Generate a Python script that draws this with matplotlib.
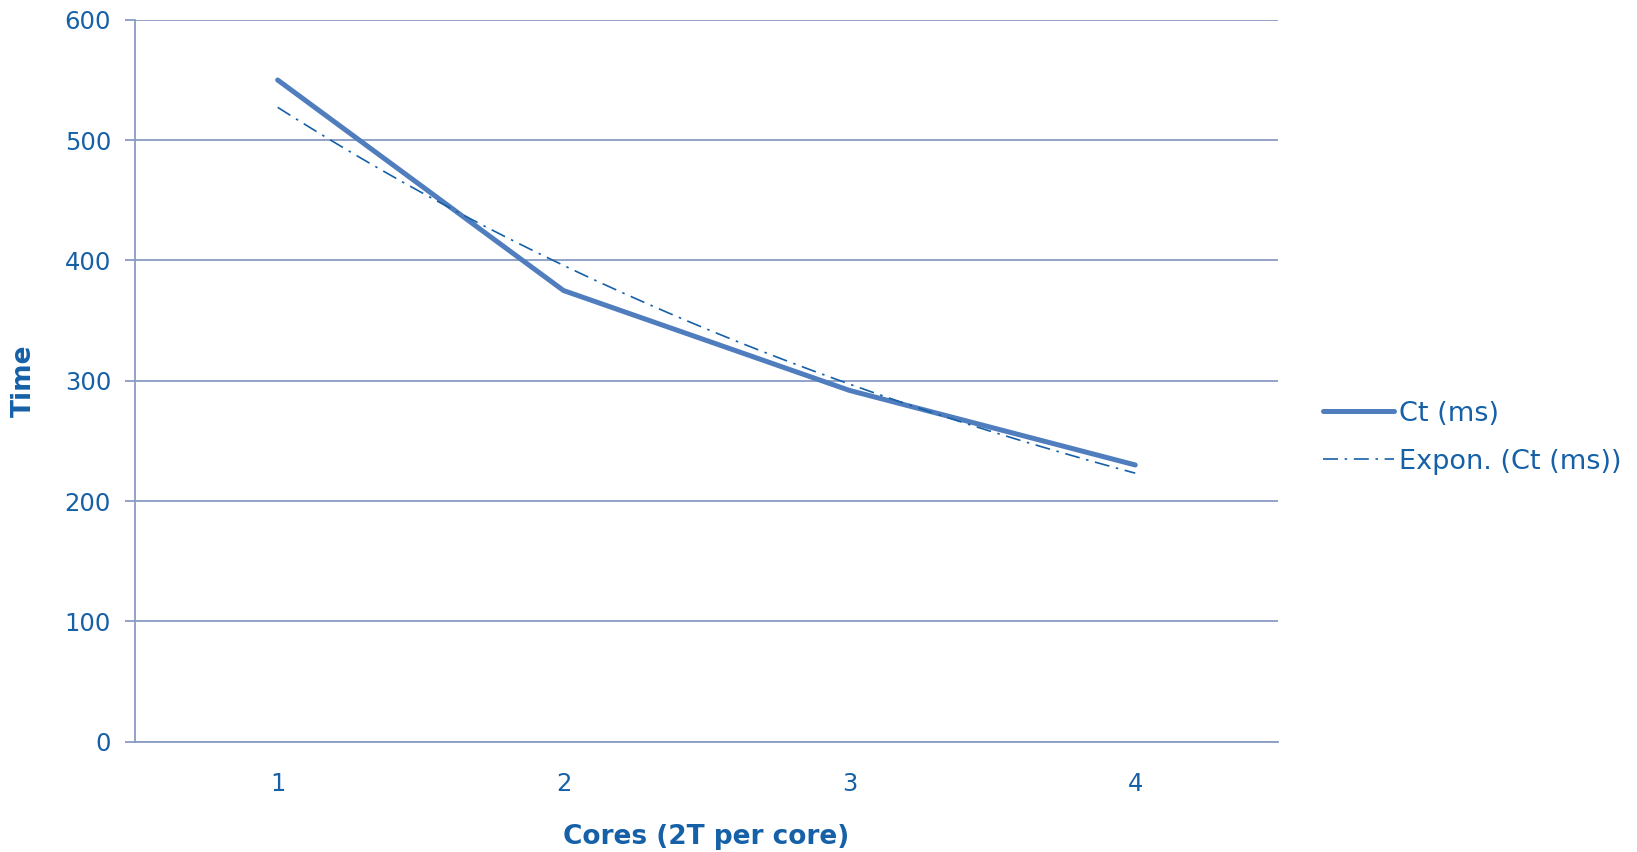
import matplotlib
matplotlib.use("Agg")
import matplotlib.pyplot as plt
import numpy as np

cores = [1, 2, 3, 4]
ct_ms = [550, 375, 292, 230]
yticks = [0, 100, 200, 300, 400, 500, 600]

text_col = "#1660a8"
grid_col = "#8a9cc4"
line_col = "#4f7dbd"

plt.rcParams["font.family"] = ["DejaVu Sans"]

fig = plt.figure(figsize=(16.37, 8.52), dpi=100)
ax = fig.add_axes([0.0823, 0.1295, 0.6985, 0.8472])

ax.plot(cores, ct_ms, color=line_col, lw=3.6, solid_capstyle="round",
        label="Ct (ms)", zorder=3)

# exponential trendline fitted to the series (like Excel's Expon.)
b, a = np.polyfit(cores, np.log(ct_ms), 1)
xt = np.linspace(cores[0], cores[-1], 100)
ax.plot(xt, np.exp(a + b * xt), color=text_col, lw=1.2,
        linestyle=(0, (9, 4, 1.5, 4)), label="Expon. (Ct (ms))", zorder=4)

ax.set_xlim(0.5, 4.5)
ax.set_ylim(0, 600)
ax.set_yticks(yticks)
ax.set_xticks(cores)
ax.grid(axis="y", color=grid_col, lw=1.3)
ax.set_axisbelow(True)
for s in ["top", "right"]:
    ax.spines[s].set_visible(False)
for s in ["left", "bottom"]:
    ax.spines[s].set_color(grid_col)
    ax.spines[s].set_linewidth(1.3)

ax.tick_params(axis="y", colors=text_col, labelsize=17.5, length=7,
               width=1.3, color=grid_col, pad=10)
ax.tick_params(axis="x", colors=text_col, labelsize=17.5, length=0, pad=22)

ax.set_xlabel("Cores (2T per core)", fontsize=19, fontweight="bold",
              color=text_col, labelpad=20)
ax.set_ylabel("Time", fontsize=19, fontweight="bold", color=text_col,
              labelpad=20)

leg = ax.legend(loc="center left", bbox_to_anchor=(1.0396, 0.421),
                frameon=False, fontsize=19.5, handlelength=2.6,
                handletextpad=0.2, labelspacing=0.8, borderpad=0,
                borderaxespad=0)
for t in leg.get_texts():
    t.set_color(text_col)

fig.savefig("out.png", dpi=100)
